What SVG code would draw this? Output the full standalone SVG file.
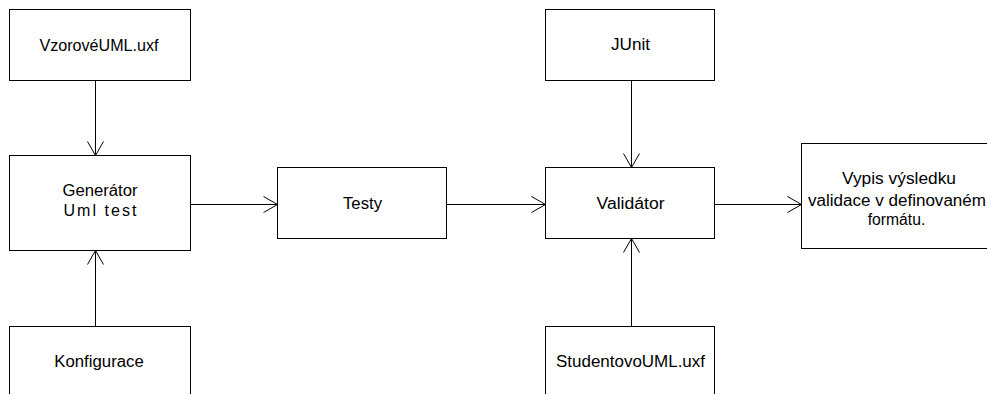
<svg xmlns="http://www.w3.org/2000/svg" width="987" height="394" viewBox="0 0 987 394">
<style>
.box{fill:#fff;stroke:#000;stroke-width:1}
.lbl{font-family:"Liberation Sans",Arial,sans-serif;font-size:16px;fill:#000;text-anchor:middle}
.con{fill:none;stroke:#000;stroke-width:1;marker-end:url(#arr)}
</style>
<defs>
<marker id="arr" markerUnits="userSpaceOnUse" markerWidth="20" markerHeight="20" viewBox="-16 -10 20 20" refX="0" refY="0" orient="auto">
<path d="M-14,-8 L0,0 L-14,8" fill="none" stroke="#000" stroke-width="1"/>
</marker>
</defs>
<rect width="987" height="394" fill="#fff"/>
<g id="vzorove">
<rect class="box" x="9.5" y="9.5" width="181" height="71"/>
<text class="lbl" x="99" y="50.5" textLength="119" lengthAdjust="spacingAndGlyphs">VzorovéUML.uxf</text>
</g>
<g id="generator">
<rect class="box" x="9.5" y="155.5" width="181" height="95"/>
<text class="lbl" x="100" y="195.5" textLength="75" lengthAdjust="spacingAndGlyphs">Generátor</text>
<text class="lbl" x="100" y="215.5" textLength="73" lengthAdjust="spacing">Uml test</text>
</g>
<g id="konfigurace">
<rect class="box" x="9.5" y="326.5" width="181" height="80"/>
<text class="lbl" x="99" y="367" textLength="89.5" lengthAdjust="spacingAndGlyphs">Konfigurace</text>
</g>
<g id="testy">
<rect class="box" x="277.5" y="167.5" width="169" height="71"/>
<text class="lbl" x="362.5" y="208.5" textLength="39" lengthAdjust="spacingAndGlyphs">Testy</text>
</g>
<g id="junit">
<rect class="box" x="545.5" y="9.5" width="169" height="71"/>
<text class="lbl" x="630.5" y="50" textLength="39" lengthAdjust="spacingAndGlyphs">JUnit</text>
</g>
<g id="validator">
<rect class="box" x="545.5" y="167.5" width="169" height="71"/>
<text class="lbl" x="630.5" y="208.5" textLength="68" lengthAdjust="spacingAndGlyphs">Validátor</text>
</g>
<g id="studentovo">
<rect class="box" x="545.5" y="326.5" width="169" height="80"/>
<text class="lbl" x="630.5" y="367" textLength="149" lengthAdjust="spacingAndGlyphs">StudentovoUML.uxf</text>
</g>
<g id="vypis">
<rect class="box" x="801.5" y="143.5" width="200" height="105"/>
<text class="lbl" x="899" y="184" textLength="114" lengthAdjust="spacingAndGlyphs">Vypis výsledku</text>
<text class="lbl" x="897" y="205.5" textLength="178" lengthAdjust="spacingAndGlyphs">validace v definovaném</text>
<text class="lbl" x="896.5" y="225" textLength="57.5" lengthAdjust="spacingAndGlyphs">formátu.</text>
</g>
<g id="connectors">
<path class="con" d="M95.5,80.5 L95.5,155.5"/>
<path class="con" d="M95.5,326.5 L95.5,250.5"/>
<path class="con" d="M190.5,204.5 L277.5,204.5"/>
<path class="con" d="M446.5,204.5 L545.5,204.5"/>
<path class="con" d="M631.5,80.5 L631.5,167.5"/>
<path class="con" d="M631.5,326.5 L631.5,238.5"/>
<path class="con" d="M714.5,204.5 L801.5,204.5"/>
</g>
</svg>
